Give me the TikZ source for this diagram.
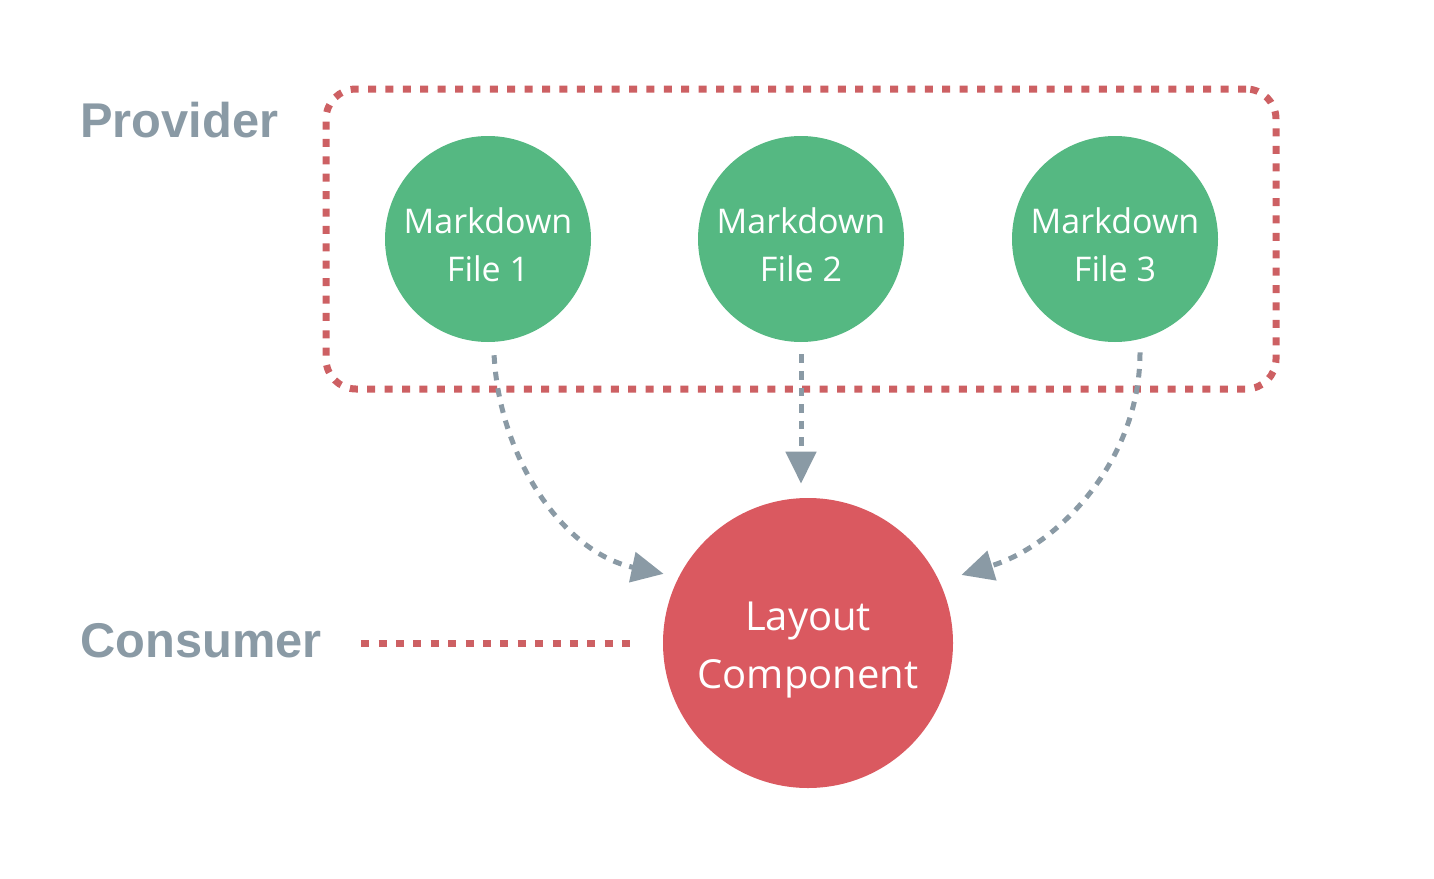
\documentclass[tikz,border=0pt]{standalone}
\usepackage{fontspec}
\setmainfont{Open Sans}
\newfontfamily\rolefont{Liberation Sans}
\usetikzlibrary{arrows.meta}

\definecolor{mdgreen}{RGB}{85,184,130}
\definecolor{layoutred}{RGB}{218,89,96}
\definecolor{dotred}{RGB}{205,96,99}
\definecolor{flowgray}{RGB}{138,154,165}

\newcommand{\firstline}[1]{\rule{0pt}{#1}}

\begin{document}
\begin{tikzpicture}[x=0.5pt,y=0.5pt,
    mdfile/.style={circle, fill=mdgreen, text=white, minimum size=103pt, inner sep=0pt,
        align=center, font=\fontsize{17}{24}\selectfont},
    layoutnode/.style={circle, fill=layoutred, text=white, minimum size=145pt, inner sep=0pt,
        align=center, font=\fontsize{20}{29}\selectfont},
    role/.style={anchor=base west, inner sep=0pt, text=flowgray,
        font=\rolefont\bfseries\fontsize{24.4}{28}\selectfont},
    reddots/.style={draw=dotred, line width=3.5pt, dash pattern=on 4pt off 4.7pt},
    flow/.style={draw=flowgray, line width=2.5pt, dash pattern=on 4.3pt off 4pt,
        -{Triangle[length=16pt,width=15pt]}}]
            \useasboundingbox (0,0) rectangle (1434,-878);

            \node[role] (provider) at (80,-137) {Provider};
            \node[role] (consumer) at (80,-657) {Consumer};

            \node[reddots, rounded corners=15pt, minimum width=475pt, minimum height=150pt] (group) at (801,-239) {};

            \node[mdfile] (md1) at (488,-239) {\firstline{19pt}Markdown\\File 1};
            \node[mdfile] (md2) at (801,-239) {\firstline{19pt}Markdown\\File 2};
            \node[mdfile] (md3) at (1115,-239) {\firstline{19pt}Markdown\\File 3};
            \node[layoutnode] (layoutcomp) at (808,-643) {\firstline{21.5pt}Layout\\Component};

            \draw[flow, shorten <=6.5pt, shorten >=7.6pt] (md1.-87) to[out=-87, in=168] (layoutcomp.153);
            \draw[flow, shorten <=6pt, shorten >=7pt] (md2.south) -- (md2.south |- layoutcomp.north);
            \draw[flow, shorten <=6.5pt, shorten >=11.3pt] (md3.-76) to[out=-90, in=17] (layoutcomp.25);

            \draw[reddots, shorten <=19.5pt, shorten >=16pt] (consumer.east |- layoutcomp.west) -- (layoutcomp.west);
        \end{tikzpicture}
\end{document}
